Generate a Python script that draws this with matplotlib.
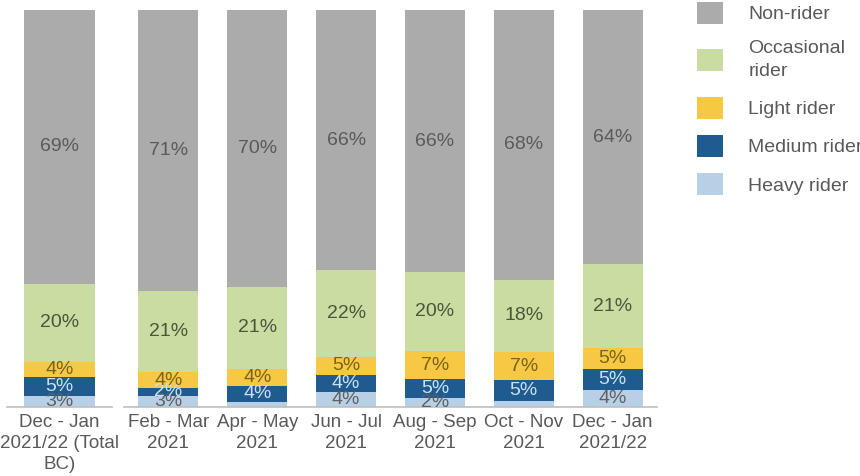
import matplotlib.pyplot as plt
from matplotlib.patches import Patch

plt.rcParams['font.family'] = ['Liberation Sans', 'DejaVu Sans']

# categories
total_label = ['Dec - Jan\n2021/22 (Total\nBC)']
periods = ['Feb - Mar\n2021', 'Apr - May\n2021', 'Jun - Jul\n2021',
           'Aug - Sep\n2021', 'Oct - Nov\n2021', 'Dec - Jan\n2021/22']
segments = ['Heavy rider', 'Medium rider', 'Light rider',
            'Occasional\nrider', 'Non-rider']

# values in % (first item = Total BC, rest = periods)
heavy = [2.8, 2.7, 1.2, 3.8, 2.2, 1.6, 4.3]
medium = [4.7, 2.2, 4.2, 4.2, 4.8, 5.2, 5.3]
light = [3.8, 3.8, 4.1, 4.7, 7.1, 7.0, 5.2]
occasional = [19.8, 20.6, 20.8, 21.7, 19.8, 18.3, 21.1]
nonrider = [68.9, 70.7, 69.7, 65.6, 66.1, 67.9, 64.1]

series = [heavy, medium, light, occasional, nonrider]
colors = ['#b8d0e6', '#1f5b8e', '#f7c843', '#c9dca2', '#ababab']
txt_colors = ['#606060', '#c9e2f6', '#7a6218', '#4b5638', '#5a5a5a']

fig = plt.figure(figsize=(8.6, 4.76), dpi=100)
ax1 = fig.add_axes([7 / 860, 69 / 476, 105 / 860, 397 / 476])
ax2 = fig.add_axes([124 / 860, 69 / 476, 533 / 860, 397 / 476])


def draw(ax, idx, labels, width):
    xs = list(range(len(idx)))
    bottom = [0.0] * len(idx)
    for vals, c, tc in zip(series, colors, txt_colors):
        v = [vals[i] for i in idx]
        ax.bar(xs, v, width, bottom=bottom, color=c)
        for x, b, h in zip(xs, bottom, v):
            if h >= 1.95:
                ax.text(x, b + h / 2, f'{round(h)}%', ha='center', va='center',
                        fontsize=14, color=tc)
        bottom = [b + h for b, h in zip(bottom, v)]
    ax.set_xlim(-0.5, len(idx) - 0.5)
    ax.set_ylim(0, 100)
    ax.set_xticks(xs)
    ax.set_xticklabels(labels, fontsize=13.5, color='#595959', linespacing=1.3)
    ax.tick_params(axis='x', length=0, pad=5)
    ax.set_yticks([])
    for s in ['top', 'right', 'left']:
        ax.spines[s].set_visible(False)
    ax.spines['bottom'].set_color('#bfbfbf')
    ax.spines['bottom'].set_linewidth(1.2)


draw(ax1, [0], total_label, 0.667)
draw(ax2, list(range(1, 7)), periods, 0.675)

handles = [Patch(facecolor=c, label=l) for c, l in zip(colors, segments)]
leg = fig.legend(handles=handles[::-1], loc='upper left',
                 bbox_to_anchor=(695 / 860, 1.0), frameon=False, fontsize=14,
                 handlelength=1.35, handleheight=1.35, handletextpad=1.3,
                 labelspacing=0.85, borderpad=0.1, borderaxespad=0,
                 labelcolor='#595959')
for t in leg.get_texts():
    t.set_linespacing(1.45)

fig.savefig('out.png', dpi=100)
